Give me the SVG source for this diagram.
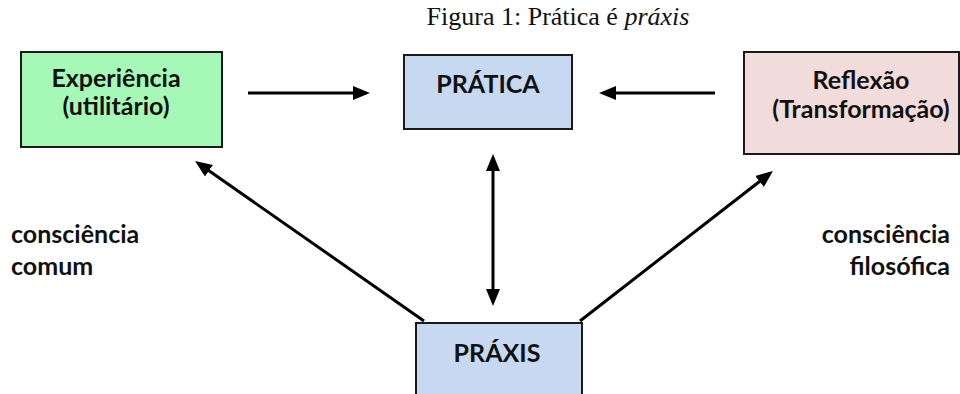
<svg xmlns="http://www.w3.org/2000/svg" width="960" height="394" viewBox="0 0 960 394">
  <defs>
    <marker id="ah" markerUnits="userSpaceOnUse" markerWidth="17" markerHeight="14" refX="13" refY="7" orient="auto-start-reverse">
      <path d="M0,0 L17,7 L0,14 z" fill="#000"/>
    </marker>
  </defs>
  <style>
    .box { stroke: #1a1a1a; stroke-width: 2; }
    .lbl { font-family: Lato, "Open Sans", sans-serif; font-weight: bold; font-size: 25px; fill: #111; }
    .mid { text-anchor: middle; }
    .conn { stroke: #000; stroke-width: 3; fill: none; }
    .title { font-family: "Liberation Serif", serif; font-size: 26px; fill: #111; }
  </style>
  <rect width="960" height="394" fill="#fff"/>
  <text class="title" x="558" y="25" text-anchor="middle">Figura 1: Prática é <tspan font-style="italic">práxis</tspan></text>

  <g id="experiencia">
    <rect class="box" x="21" y="52" width="201" height="95" fill="#A6F8B6"/>
    <text class="lbl mid" x="116" y="87">Experiência</text>
    <text class="lbl mid" x="116" y="115">(utilitário)</text>
  </g>
  <g id="pratica">
    <rect class="box" x="404" y="55" width="168" height="74" fill="#C6D9F1"/>
    <text class="lbl mid" x="488" y="93">PRÁTICA</text>
  </g>
  <g id="reflexao">
    <rect class="box" x="744" y="52" width="215" height="102" fill="#F2DCDB"/>
    <text class="lbl mid" x="861" y="89">Reflexão</text>
    <text class="lbl mid" x="861" y="118">(Transformação)</text>
  </g>
  <g id="praxis">
    <rect class="box" x="416" y="323" width="166" height="80" fill="#C6D9F1"/>
    <text class="lbl mid" x="497" y="362">PRÁXIS</text>
  </g>
  <g id="labels">
    <text class="lbl" x="11" y="243">consciência</text>
    <text class="lbl" x="11" y="275">comum</text>
    <text class="lbl" x="950" y="243" text-anchor="end">consciência</text>
    <text class="lbl" x="950" y="275" text-anchor="end">filosófica</text>
  </g>
  <g id="connectors">
    <line class="conn" x1="248" y1="93" x2="366" y2="93" marker-end="url(#ah)"/>
    <line class="conn" x1="715" y1="93" x2="603" y2="93" marker-end="url(#ah)"/>
    <line class="conn" x1="493" y1="302" x2="493" y2="158" marker-start="url(#ah)" marker-end="url(#ah)"/>
    <line class="conn" x1="424" y1="321" x2="198.3" y2="163.3" marker-end="url(#ah)"/>
    <line class="conn" x1="580" y1="321" x2="769.8" y2="173.5" marker-end="url(#ah)"/>
  </g>
</svg>
